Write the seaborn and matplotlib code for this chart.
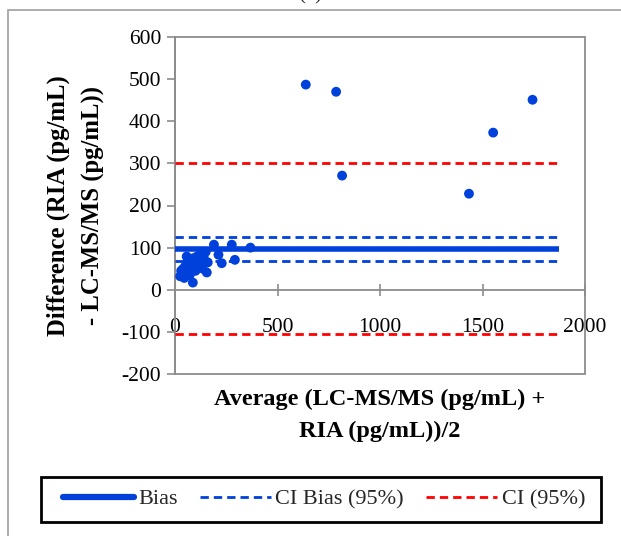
import matplotlib
matplotlib.use("Agg")
import matplotlib.pyplot as plt
import seaborn as sns
import pandas as pd
from matplotlib.lines import Line2D
from matplotlib.patches import Rectangle

# ---- data ----
average = [25, 30, 35, 40, 45, 50, 55, 57, 60, 65, 70, 72, 75, 80, 85, 87,
           90, 95, 100, 105, 110, 115, 120, 125, 130, 135, 140, 150, 155, 160,
           190, 212, 228, 277, 292, 368, 638, 786, 815, 1434, 1552, 1744]
difference = [32, 45, 38, 50, 28, 55, 62, 79, 42, 70, 48, 35, 58, 65, 52, 17,
              75, 60, 45, 68, 80, 55, 72, 62, 85, 50, 78, 90, 41, 65,
              107, 83, 63, 107, 71, 100, 487, 470, 271, 228, 373, 451]
line_x = [0, 1875]
bias = 97
ci_bias = [125, 69]
ci = [301, -106]
x_ticks = [0, 500, 1000, 1500, 2000]
y_ticks = [-200, -100, 0, 100, 200, 300, 400, 500, 600]

BLUE = "#0041DC"
RED = "#FF0000"
GRAY = "#8C8C8C"

sns.set_theme(style="white")
plt.rcParams["font.family"] = ["Liberation Serif", "DejaVu Serif"]

W, H = 621, 536
fig = plt.figure(figsize=(W / 100, H / 100), dpi=100)
ax = fig.add_axes([175 / W, 1 - 374 / H, 410 / W, 337 / H])

pts = pd.DataFrame({"avg": average, "diff": difference})
sns.scatterplot(data=pts, x="avg", y="diff", ax=ax, color=BLUE, s=50,
                edgecolor="none", zorder=4)

lines = pd.DataFrame({
    "x": line_x * 5,
    "y": [bias] * 2 + [ci_bias[0]] * 2 + [ci_bias[1]] * 2 + [ci[0]] * 2 + [ci[1]] * 2,
    "g": ["b"] * 2 + ["cb1"] * 2 + ["cb2"] * 2 + ["c1"] * 2 + ["c2"] * 2,
})
sns.lineplot(data=lines[lines.g == "b"], x="x", y="y", ax=ax, color=BLUE, lw=4,
             solid_capstyle="butt", zorder=3)
for g in ["cb1", "cb2"]:
    sns.lineplot(data=lines[lines.g == g], x="x", y="y", ax=ax, color=BLUE, lw=2,
                 dashes=(3, 1.8), zorder=3)
for g in ["c1", "c2"]:
    sns.lineplot(data=lines[lines.g == g], x="x", y="y", ax=ax, color=RED, lw=2,
                 dashes=(3, 1.8), zorder=3)

ax.set_xlim(0, 2000)
ax.set_ylim(-200, 600)
ax.set_xticks(x_ticks)
ax.set_yticks(y_ticks)
ax.set_xticklabels([str(v) for v in x_ticks])
ax.set_yticklabels([str(v) for v in y_ticks])

for s in ["top", "right"]:
    ax.spines[s].set_visible(False)
ax.spines["left"].set_color(GRAY)
ax.spines["bottom"].set_color(GRAY)
ax.spines["left"].set_linewidth(1.3)
ax.spines["bottom"].set_linewidth(1.3)
ax.spines["bottom"].set_position(("data", 0))
ax.add_patch(Rectangle((0, 0), 1, 1, transform=ax.transAxes, fill=False,
                       edgecolor=GRAY, lw=1.3, zorder=1, clip_on=False))

ax.tick_params(axis="y", direction="out", length=6, width=1.2, color=GRAY,
               labelsize=15.5, pad=4, left=True, labelcolor="black")
ax.tick_params(axis="x", direction="inout", length=9, width=1.2, color=GRAY,
               labelsize=15.5, pad=16, bottom=True, labelcolor="black")

ax.set_xlabel("Average (LC-MS/MS (pg/mL) +\nRIA (pg/mL))/2", fontsize=17.5,
              fontweight="bold", linespacing=1.65, color="black")
ax.xaxis.set_label_coords(0.5, -0.045)
ax.set_ylabel("Difference (RIA (pg/mL)\n- LC-MS/MS (pg/mL))", fontsize=17.8,
              fontweight="bold", linespacing=1.65, color="black")
ax.yaxis.set_label_coords(-0.171, 0.5)

# outer chart frame
fig.add_artist(Rectangle((8 / W, -0.05), 1.2, 1 - 10 / H + 0.05,
                         transform=fig.transFigure, fill=False,
                         edgecolor="#A0A0A0", lw=1.2))
fig.text(310 / W, 1 - 4 / H, "(b)", ha="center", va="bottom", fontsize=15)

handles = [
    Line2D([], [], color=BLUE, lw=4.5, solid_capstyle="round"),
    Line2D([], [], color=BLUE, lw=2, dashes=(3, 1.8)),
    Line2D([], [], color=RED, lw=2, dashes=(3, 1.8)),
]
leg = fig.legend(handles, ["Bias", "CI Bias (95%)", "CI (95%)"], ncol=3,
                 loc="center", bbox_to_anchor=(324 / W, 1 - 499 / H),
                 fontsize=16, frameon=False, handlelength=3.2,
                 handletextpad=0.2, columnspacing=1.0, borderpad=0.3,
                 borderaxespad=0)
fig.add_artist(Rectangle((41 / W, 1 - 522 / H), 560 / W, 45 / H,
                         transform=fig.transFigure, fill=False,
                         edgecolor="black", lw=2))

fig.savefig("out.png", dpi=100)
